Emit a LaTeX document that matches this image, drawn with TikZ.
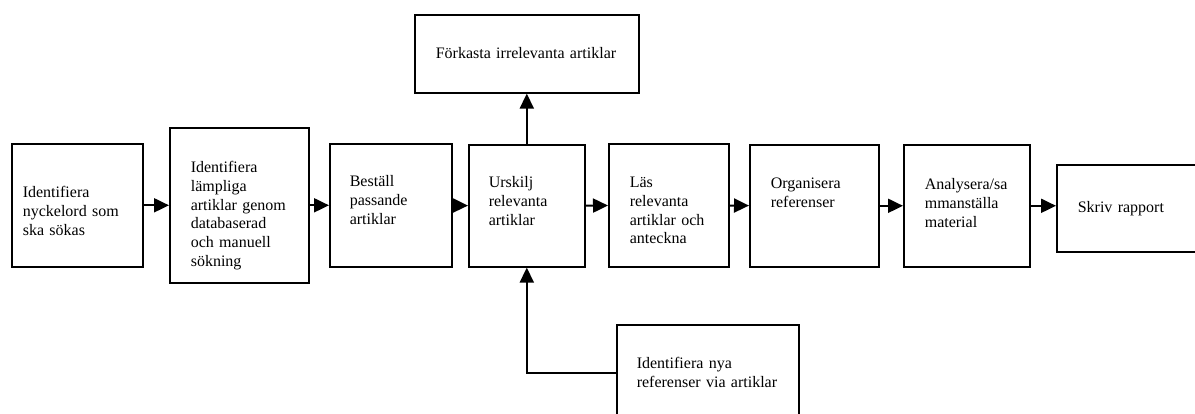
\documentclass[tikz,border=0pt]{standalone}
\usepackage{fontspec}
\setmainfont{Liberation Serif}
\usetikzlibrary{arrows.meta,positioning,calc}
\tikzset{
stepbox/.style = {draw, line width=1.6pt, anchor=north west, align=left, inner ysep=0pt, inner xsep=21pt, text height=44pt, font=\fontsize{16pt}{18.7pt}\selectfont},
flow/.style = {line width=2pt}
}

\begin{document}
\begin{tikzpicture}[x=1pt, y=-1pt, >={Triangle[length=15pt,width=14pt]}]
  \clip (0,0) rectangle (1195,414);
  \node [stepbox, inner xsep=11pt, text width=109pt, text height=54pt, text depth=69pt]  (b1)     at (11,143)   {Identifiera\\ nyckelord~som\\ ska sökas};
  \node [stepbox, text width=97pt, text height=45pt, text depth=110pt]                  (b2)     at (169,127)  {Identifiera\\ lämpliga\\ artiklar~genom\\ databaserad\\ och~manuell\\ sökning};
  \node [stepbox, inner xsep=20pt, text width=82pt, text height=43pt, text depth=80pt]  (b3)     at (329,143)  {Beställ\\ passande\\ artiklar};
  \node [stepbox, inner xsep=20pt, text width=76pt, text height=43pt, text depth=79pt]  (b4)     at (468,144)  {Urskilj\\ relevanta\\ artiklar};
  \node [stepbox, text width=78pt, text depth=79pt]                                     (b5)     at (608,143)  {Läs\\ relevanta\\ artiklar~och\\ anteckna};
  \node [stepbox, text width=87pt, text depth=78pt]                                     (b6)     at (749,144)  {Organisera\\ referenser};
  \node [stepbox, text width=84pt, text height=45pt, text depth=77pt]                   (b7)     at (903,144)  {Analysera/sa\\ mmanställa\\ material};
  \node [stepbox, text width=102pt, text height=48pt, text depth=39pt]                  (b8)     at (1056,164) {Skriv~rapport};
  \node [stepbox, text width=182pt, text depth=34pt]                                    (reject) at (414,14)   {Förkasta irrelevanta artiklar};
  \node [stepbox, inner xsep=20pt, text width=142pt, text depth=52pt]                   (newref) at (616,324)  {Identifiera~nya\\ referenser~via~artiklar};

  \draw [flow, ->] (b1) -- (b2);
  \draw [flow, ->] (b2) -- (b3);
  \draw [flow, ->] (b3) -- (b4);
  \draw [flow, ->] (b4) -- (b5);
  \draw [flow, ->] (b5) -- (b6);
  \draw [flow, ->] (b6) -- (b7);
  \draw [flow, ->] (b7.east) -- (b7.east -| b8.west);
  \draw [flow, ->] (b4) -- (reject);
  \draw [flow, ->] (newref.west) -| (b4.south);
\end{tikzpicture}
\end{document}
